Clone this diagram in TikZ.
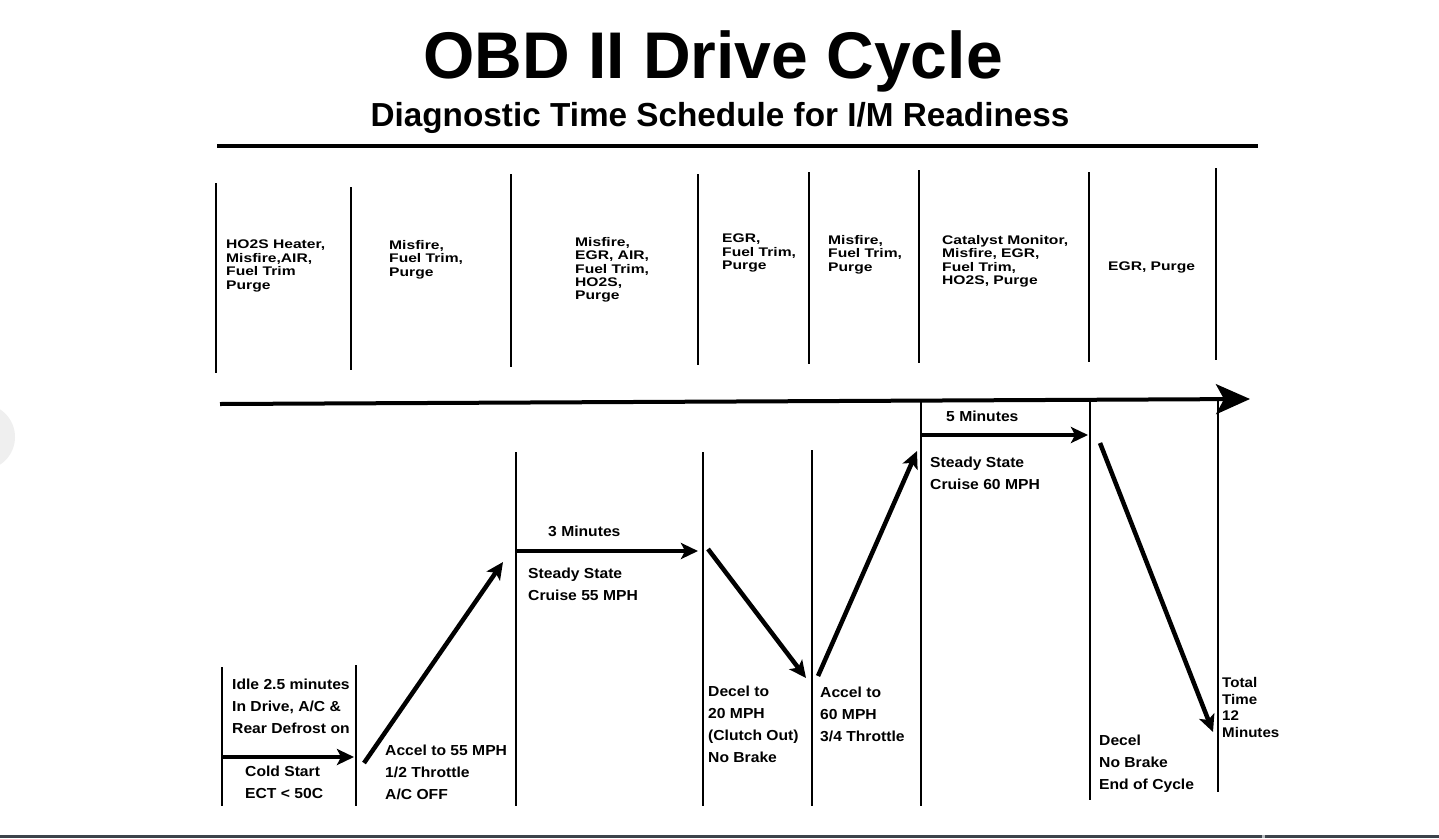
\documentclass[tikz,border=0pt]{standalone}
\usepackage{fontspec}
\setmainfont{Liberation Sans}
\newfontfamily\upf{Liberation Sans}[FakeStretch=1.25]
\newfontfamily\lof{Liberation Sans}[FakeStretch=1.08]
\usetikzlibrary{arrows.meta}
\definecolor{barcol}{HTML}{3C434B}
\definecolor{circcol}{HTML}{EFEFEF}
\definecolor{gapcol}{HTML}{B8BCC0}
\begin{document}
\begin{tikzpicture}[x=1pt,y=-1pt,
  vline/.style={line width=1.6pt},
  rule/.style={line width=4pt},
  mainarrow/.style={line width=4pt,-{Stealth[length=34pt,width=30pt,inset=8pt]}},
  flow/.style={line width=4.5pt,-{Stealth[length=17pt,width=16pt,inset=4pt]}},
  uptxt/.style={anchor=north west,inner sep=0pt,align=left,font=\upf\bfseries\fontsize{12.5}{13.4}\selectfont},
  lotxt/.style={anchor=north west,inner sep=0pt,align=left,font=\lof\bfseries\fontsize{14.5}{22}\selectfont},
  tottxt/.style={anchor=north west,inner sep=0pt,align=left,font=\lof\bfseries\fontsize{14}{16.7}\selectfont}]
\useasboundingbox (0,0) rectangle (1439,838);
\fill[white] (0,0) rectangle (1439,838);
% screenshot artefacts
\fill[circcol] (-18,437) circle (33);
\fill[barcol] (0,834.5) rectangle (1439,838);
\fill[gapcol] (1262,834.5) rectangle (1265,838);

% titles
\node[anchor=base,inner sep=0pt,font=\bfseries\fontsize{66}{70}\selectfont] (title) at (713,78) {OBD II Drive Cycle};
\node[anchor=base,inner sep=0pt,font=\bfseries\fontsize{33.3}{36}\selectfont] (subtitle) at (720,126) {Diagnostic Time Schedule for I/M Readiness};
\coordinate (r1) at (217,146);
\coordinate (r2) at (1258,146);
\draw[rule] (r1) -- (r2);

% upper dividers
\foreach \n/\x/\a/\b in {1/216/183/373,2/351/187/370,3/511/174/367,4/698/174/365,5/809/172/364,6/919/170/363,7/1089/172/362,8/1216/168/360}{
  \coordinate (u\n t) at (\x,\a);
  \coordinate (u\n b) at (\x,\b);
  \draw[vline] (u\n t) -- (u\n b);
}

% upper monitor texts
\node[uptxt] (t1) at (226,240) {HO2S Heater,\\Misfire,AIR,\\Fuel Trim\\Purge};
\node[uptxt] (t2) at (389,240) {Misfire,\\Fuel Trim,\\Purge};
\node[uptxt] (t3) at (575,237) {Misfire,\\EGR, AIR,\\Fuel Trim,\\HO2S,\\Purge};
\node[uptxt] (t4) at (722,234) {EGR,\\Fuel Trim,\\Purge};
\node[uptxt] (t5) at (828,235) {Misfire,\\Fuel Trim,\\Purge};
\node[uptxt] (t6) at (942,235) {Catalyst Monitor,\\Misfire, EGR,\\Fuel Trim,\\HO2S, Purge};
\node[uptxt] (t7) at (1108,262) {EGR, Purge};

% main time arrow
\coordinate (m1) at (220,404);
\coordinate (m2) at (1250,399);
\draw[mainarrow] (m1) -- (m2);

% lower dividers
\foreach \n/\x/\a/\b in {1/222/667/806,2/356/665/806,3/516/452/806,4/703/452/806,5/812/450/806,6/921/401/806,7/1090/400/800,8/1218/399/792}{
  \coordinate (l\n t) at (\x,\a);
  \coordinate (l\n b) at (\x,\b);
  \draw[vline] (l\n t) -- (l\n b);
}

% speed profile arrows
\coordinate (p0) at (222,757);
\coordinate (p1) at (354,757);
\coordinate (p2s) at (364,763);
\coordinate (p2) at (503,562);
\coordinate (p3s) at (516,551);
\coordinate (p3) at (698,551);
\coordinate (p4s) at (708,549);
\coordinate (p4) at (806,678);
\coordinate (p5s) at (818,676);
\coordinate (p5) at (917,451);
\coordinate (p6s) at (922,435);
\coordinate (p6) at (1088,435);
\coordinate (p7s) at (1100,443);
\coordinate (p7) at (1213,732);
\draw[flow] (p0) -- (p1);
\draw[flow] (p2s) -- (p2);
\draw[flow] (p3s) -- (p3);
\draw[flow] (p4s) -- (p4);
\draw[flow] (p5s) -- (p5);
\draw[flow] (p6s) -- (p6);
\draw[flow] (p7s) -- (p7);

% lower texts
\node[lotxt] (idle) at (232,679) {Idle 2.5 minutes\\In Drive, A/C \&\\Rear Defrost on};
\node[lotxt] (cold) at (245,766) {Cold Start\\ECT < 50C};
\node[lotxt] (acc55) at (385,745) {Accel to 55 MPH\\1/2 Throttle\\A/C OFF};
\node[lotxt] (min3) at (548,526) {3 Minutes};
\node[lotxt] (ss55) at (528,568) {Steady State\\Cruise 55 MPH};
\node[lotxt] (dec20) at (708,686) {Decel to\\20 MPH\\(Clutch Out)\\No Brake};
\node[lotxt] (acc60) at (820,687) {Accel to\\60 MPH\\3/4 Throttle};
\node[lotxt] (min5) at (946,411) {5 Minutes};
\node[lotxt] (ss60) at (930,457) {Steady State\\Cruise 60 MPH};
\node[lotxt] (decel) at (1099,735) {Decel\\No Brake\\End of Cycle};
\node[tottxt] (total) at (1222,677) {Total\\Time\\12\\Minutes};
\end{tikzpicture}
\end{document}
